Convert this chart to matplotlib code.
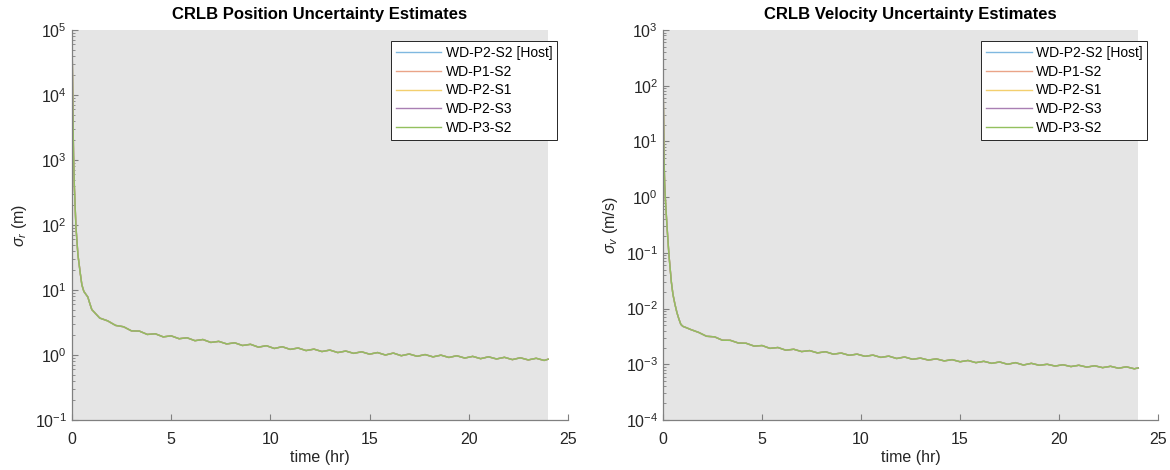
import math
import matplotlib
matplotlib.use("Agg")
import matplotlib.pyplot as plt
from matplotlib.ticker import LogLocator, NullFormatter

plt.rcParams['font.family'] = ['Liberation Sans', 'DejaVu Sans']
plt.rcParams['mathtext.fontset'] = 'custom'
plt.rcParams['mathtext.rm'] = 'Liberation Sans'
plt.rcParams['mathtext.it'] = 'Liberation Sans:italic'
plt.rcParams['axes.unicode_minus'] = False

# sample times (hr)
hours = [0.0, 0.02, 0.05, 0.08, 0.12, 0.2, 0.3, 0.42, 0.5, 0.6, 0.7, 0.8, 0.9, 1.0, 1.2, 1.4,
         1.8, 2.2, 2.6, 3.0, 3.4, 3.8, 4.2, 4.6, 5.0, 5.4, 5.8, 6.2, 6.6, 7.0, 7.4, 7.8,
         8.2, 8.6, 9.0, 9.4, 9.8, 10.2, 10.6, 11.0, 11.4, 11.8, 12.2, 12.6, 13.0, 13.4,
         13.8, 14.2, 14.6, 15.0, 15.4, 15.8, 16.2, 16.6, 17.0, 17.4, 17.8, 18.2, 18.6,
         19.0, 19.4, 19.8, 20.2, 20.6, 21.0, 21.4, 21.8, 22.2, 22.6, 23.0, 23.4, 23.8, 24.0]

# position sigma (m), all five spacecraft overlap
sigma_r = [1e5, 3e4, 5000, 1200, 400, 95, 35, 18, 12, 9.5, 8.6, 7.8, 6.2, 5.0, 4.3, 3.7,
           3.35, 2.85, 2.72, 2.35, 2.33, 2.07, 2.12, 1.90, 1.97, 1.78, 1.84, 1.66, 1.73, 1.56,
           1.62, 1.48, 1.54, 1.40, 1.46, 1.32, 1.39, 1.26, 1.34, 1.22, 1.28, 1.17, 1.23, 1.13,
           1.19, 1.09, 1.15, 1.06, 1.12, 1.03, 1.09, 1.00, 1.07, 0.975, 1.035, 0.955, 1.015,
           0.936, 0.994, 0.917, 0.973, 0.897, 0.952, 0.878, 0.937, 0.869, 0.921, 0.849, 0.906,
           0.840, 0.890, 0.825, 0.86]

# velocity sigma (m/s)
sigma_v = [180, 40, 5, 1.8, 0.9, 0.3, 0.09, 0.03, 0.018, 0.012, 0.0085, 0.0065, 0.0052, 0.0048,
           0.0045, 0.0042,
           0.00373, 0.00318, 0.00311, 0.00270, 0.00269, 0.00241, 0.00238, 0.00212, 0.00217,
           0.00193, 0.00200, 0.00179, 0.00186, 0.00169, 0.00176, 0.00160, 0.00168, 0.00152,
           0.00159, 0.00145, 0.00152, 0.00139, 0.00146, 0.00133, 0.00140, 0.00127, 0.00135,
           0.00123, 0.00129, 0.00119, 0.00125, 0.00115, 0.00121, 0.00111, 0.00117, 0.00107,
           0.00113, 0.00104, 0.00110, 0.00100, 0.00107, 0.00097, 0.00104, 0.00096, 0.00100,
           0.00093, 0.00098, 0.00091, 0.00096, 0.00089, 0.00094, 0.00087, 0.00092, 0.00085,
           0.00090, 0.00083, 0.00086]

labels = ['WD-P2-S2 [Host]', 'WD-P1-S2', 'WD-P2-S1', 'WD-P2-S3', 'WD-P3-S2']
colors = ['#7fb8e0', '#eaa488', '#f3cf6e', '#a97fb3', '#93c05e']

fig = plt.figure(figsize=(11.7, 4.7), dpi=100)
ax1 = fig.add_axes([0.0615, 0.1064, 0.4239, 0.8298])
ax2 = fig.add_axes([0.5667, 0.1064, 0.4231, 0.8298])

panels = [
    (ax1, sigma_r, 'CRLB Position Uncertainty Estimates', r'$\sigma_r$ (m)', (1e-1, 1e5)),
    (ax2, sigma_v, 'CRLB Velocity Uncertainty Estimates', r'$\sigma_v$ (m/s)', (1e-4, 1e3)),
]

for ax, vals, title, ylab, ylim in panels:
    # grey patch only spans the simulated time
    ax.axvspan(0, hours[-1], color='#e5e5e5', lw=0, zorder=0)
    for lab, c in zip(labels, colors):
        ax.plot(hours, vals, color=c, lw=1.0, label=lab)
    ax.set_yscale('log')
    ax.set_xlim(0, 25)
    ax.set_ylim(*ylim)
    ax.set_xticks([0, 5, 10, 15, 20, 25])
    lo, hi = [round(math.log10(v)) for v in ylim]
    ax.set_yticks([10.0 ** k for k in range(lo, hi + 1)])
    ax.yaxis.set_minor_locator(LogLocator(base=10, subs=range(2, 10), numticks=100))
    ax.yaxis.set_minor_formatter(NullFormatter())
    for s in ['top', 'right']:
        ax.spines[s].set_visible(False)
    for s in ['left', 'bottom']:
        ax.spines[s].set_color('#808080')
        ax.spines[s].set_linewidth(0.9)
    ax.tick_params(which='both', direction='in', colors='#808080', labelcolor='#262626',
                   labelsize=11.5)
    ax.tick_params(axis='x', pad=9)
    ax.tick_params(which='major', length=4)
    ax.tick_params(which='minor', length=2)
    ax.set_title(title, fontsize=12, fontweight='bold', pad=8)
    ax.set_xlabel('time (hr)', fontsize=11.5, color='#262626', labelpad=2)
    ax.set_ylabel(ylab, fontsize=11.5, color='#262626')
    leg = ax.legend(loc='upper right', bbox_to_anchor=(0.978, 0.972), fontsize=10,
                    fancybox=False, framealpha=1, edgecolor='#262626', handlelength=3.3,
                    handletextpad=0.3, borderpad=0.35, labelspacing=0.35, borderaxespad=0)
    leg.get_frame().set_linewidth(0.7)

fig.savefig('out.png', dpi=100)
